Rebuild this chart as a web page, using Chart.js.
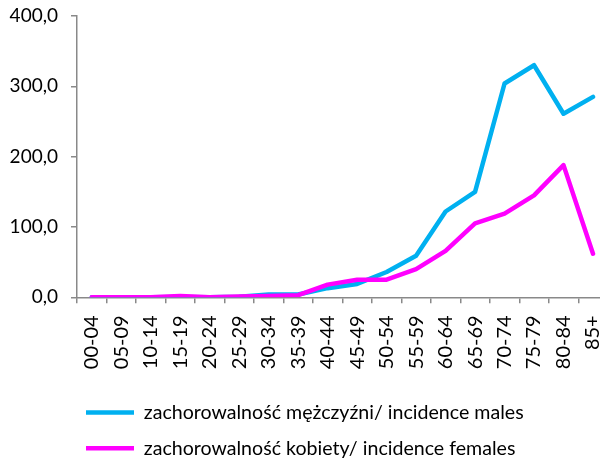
<!DOCTYPE html>
<html>
<head>
<meta charset="utf-8">
<script src="https://cdn.jsdelivr.net/npm/chart.js@4/dist/chart.umd.min.js"></script>
<style>
  html, body { margin: 0; padding: 0; background: #fff; overflow: hidden; }
  #wrap { position: absolute; left: 0; top: -10px; width: 629px; height: 478px; }
</style>
</head>
<body>
<div id="wrap"><canvas id="incidence-chart"></canvas></div>
<script>
const ageGroups = ["00-04", "05-09", "10-14", "15-19", "20-24", "25-29", "30-34", "35-39", "40-44",
  "45-49", "50-54", "55-59", "60-64", "65-69", "70-74", "75-79", "80-84", "85+"];
const malesIncidence = [0, 0, 0, 0.5, 0, 0.8, 4, 4, 13, 19, 36, 59, 122, 150, 304, 330, 261, 285];
const femalesIncidence = [0, 0, 0, 2, 0, 1, 2, 3, 18, 25, 25, 40, 66, 105, 119, 145, 188, 62];
const malesLabel = "zachorowalność mężczyźni/ incidence males";
const femalesLabel = "zachorowalność kobiety/ incidence females";

const AXIS_GRAY = "#898989";
const FONT = "Lato";
const LEGEND_INDENT = 70;

// bottom legend in the original sits left-aligned, a bit in from the edge
const legendIndent = {
  id: "legendIndent",
  afterLayout(chart) {
    chart.legend.left += LEGEND_INDENT;
    chart.legend.right += LEGEND_INDENT;
  },
};

const ctx = document.getElementById("incidence-chart").getContext("2d");
const incidenceChart = new Chart(ctx, {
  type: "line",
  data: {
    labels: ageGroups,
    datasets: [
      {
        label: malesLabel,
        data: malesIncidence,
        order: 2,
        borderColor: "#00B0F0",
        backgroundColor: "#00B0F0",
        borderWidth: 4.5,
        borderCapStyle: "round",
        borderJoinStyle: "round",
        pointRadius: 0,
        tension: 0,
      },
      {
        // females line sits on top of the males one
        label: femalesLabel,
        data: femalesIncidence,
        order: 1,
        borderColor: "#FF00FF",
        backgroundColor: "#FF00FF",
        borderWidth: 4.5,
        borderCapStyle: "round",
        borderJoinStyle: "round",
        pointRadius: 0,
        tension: 0,
      },
    ],
  },
  options: {
    responsive: true,
    maintainAspectRatio: false,
    animation: false,
    layout: {
      autoPadding: false,
      padding: { top: 26, right: 0, bottom: 0, left: 0 },
    },
    scales: {
      x: {
        offset: true,
        afterFit: (scale) => {
          scale.height = 89.5;
        },
        grid: {
          display: true,
          offset: true,
          drawOnChartArea: false,
          tickLength: 6,
          color: AXIS_GRAY,
          lineWidth: 1.5,
        },
        border: { color: AXIS_GRAY, width: 1.5 },
        ticks: {
          autoSkip: false,
          minRotation: 90,
          maxRotation: 90,
          padding: 12,
          color: "#000",
          font: { family: FONT, size: 20 },
        },
      },
      y: {
        min: 0,
        max: 400,
        afterFit: (scale) => {
          scale.width = 77;
        },
        grid: {
          display: true,
          drawOnChartArea: false,
          tickLength: 6,
          color: AXIS_GRAY,
          lineWidth: 1.5,
        },
        border: { color: AXIS_GRAY, width: 1.5 },
        ticks: {
          stepSize: 100,
          padding: 13,
          color: "#000",
          font: { family: FONT, size: 19 },
          callback: (value) => value.toFixed(1).replace(".", ","),
        },
      },
    },
    plugins: {
      title: { display: false },
      tooltip: { enabled: false },
      legend: {
        display: true,
        position: "bottom",
        align: "start",
        labels: {
          usePointStyle: true,
          pointStyle: "line",
          pointStyleWidth: 48,
          padding: 16,
          color: "#000",
          font: { family: FONT, size: 19.6 },
          sort: (a, b) => a.datasetIndex - b.datasetIndex,
        },
      },
    },
  },
  plugins: [legendIndent],
});
</script>
</body>
</html>
